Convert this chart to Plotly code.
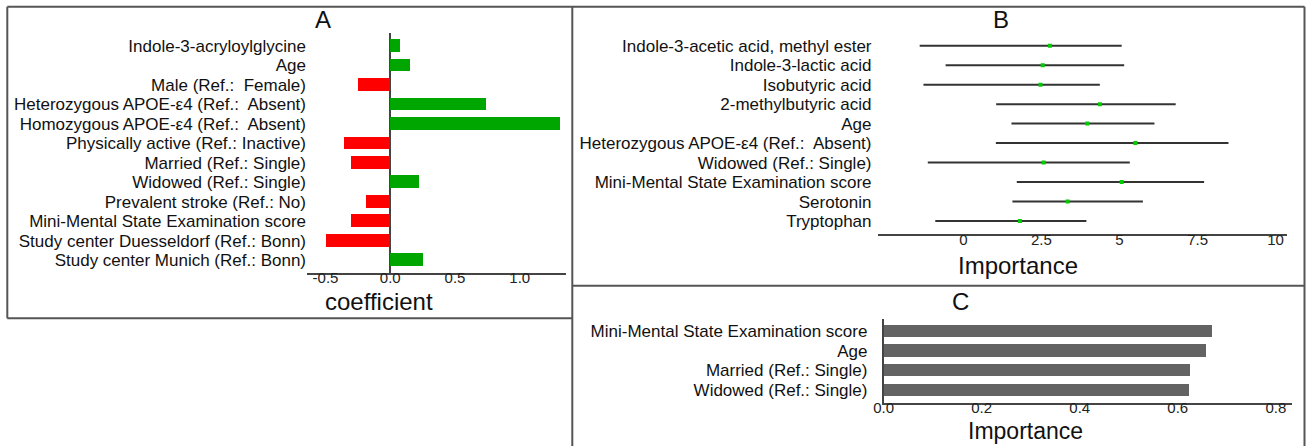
import plotly.graph_objects as go

# ---- Panel A: regression coefficients ----
a_labels = [
    "Indole-3-acryloylglycine",
    "Age",
    "Male (Ref.:  Female)",
    "Heterozygous APOE-ε4 (Ref.:  Absent)",
    "Homozygous APOE-ε4 (Ref.:  Absent)",
    "Physically active (Ref.: Inactive)",
    "Married (Ref.: Single)",
    "Widowed (Ref.: Single)",
    "Prevalent stroke (Ref.: No)",
    "Mini-Mental State Examination score",
    "Study center Duesseldorf (Ref.: Bonn)",
    "Study center Munich (Ref.: Bonn)",
]
a_coef = [0.075, 0.15, -0.25, 0.74, 1.31, -0.36, -0.30, 0.22, -0.19, -0.30, -0.50, 0.25]
a_ticks = [-0.5, 0.0, 0.5, 1.0]
a_ticktext = ["-0.5", "0.0", "0.5", "1.0"]

# ---- Panel B: permutation importance with intervals ----
b_labels = [
    "Indole-3-acetic acid, methyl ester",
    "Indole-3-lactic acid",
    "Isobutyric acid",
    "2-methylbutyric acid",
    "Age",
    "Heterozygous APOE-ε4 (Ref.:  Absent)",
    "Widowed (Ref.: Single)",
    "Mini-Mental State Examination score",
    "Serotonin",
    "Tryptophan",
]
b_mean = [2.77, 2.54, 2.47, 4.37, 3.97, 5.51, 2.57, 5.07, 3.34, 1.81]
b_low = [-1.40, -0.57, -1.28, 1.05, 1.54, 1.04, -1.14, 1.71, 1.57, -0.90]
b_high = [5.07, 5.15, 4.37, 6.80, 6.12, 8.49, 5.33, 7.71, 5.75, 3.94]
b_ticks = [0, 2.5, 5, 7.5, 10]
b_ticktext = ["0", "2.5", "5", "7.5", "10"]

# ---- Panel C: importance ----
c_labels = [
    "Mini-Mental State Examination score",
    "Age",
    "Married (Ref.: Single)",
    "Widowed (Ref.: Single)",
]
c_imp = [0.670, 0.657, 0.625, 0.623]
c_ticks = [0.0, 0.2, 0.4, 0.6, 0.8]
c_ticktext = ["0.0", "0.2", "0.4", "0.6", "0.8"]

W, H = 1306, 446
FONT = "Liberation Sans, Arial, sans-serif"
LABEL_SIZE = 17
TICK_SIZE = 15
TITLE_SIZE = 24
AXIS_COLOR = "#444444"
BOX_COLOR = "#555555"
GREEN = "#00a600"
RED = "#ff0000"


def fx(px):
    return px / W


def fy(py):
    return 1 - py / H


fig = go.Figure()

# Panel A bars
fig.add_trace(go.Bar(
    x=a_coef, y=a_labels, orientation="h", width=0.65,
    marker=dict(color=[GREEN if v > 0 else RED for v in a_coef], line=dict(width=0)),
    xaxis="x", yaxis="y", showlegend=False,
))

# Panel B points with intervals
fig.add_trace(go.Scatter(
    x=b_mean, y=b_labels, mode="markers",
    marker=dict(symbol="square", size=4, color="#00cc00", line=dict(width=0)),
    error_x=dict(type="data", symmetric=False,
                 array=[h - m for h, m in zip(b_high, b_mean)],
                 arrayminus=[m - l for m, l in zip(b_mean, b_low)],
                 color="#333333", thickness=2, width=0),
    xaxis="x2", yaxis="y2", showlegend=False,
))

# Panel C bars
fig.add_trace(go.Bar(
    x=c_imp, y=c_labels, orientation="h", width=0.63,
    marker=dict(color="#636363", line=dict(width=0)),
    xaxis="x3", yaxis="y3", showlegend=False,
))

cat_font = dict(family=FONT, size=LABEL_SIZE, color="#111111")
tick_font = dict(family=FONT, size=TICK_SIZE, color="#222222")

common_x = dict(showgrid=False, showline=True, linecolor=AXIS_COLOR, linewidth=1.5,
                ticks="", tickfont=tick_font, automargin=False, ticklabelstandoff=-9)
common_y = dict(type="category", tickfont=cat_font, showgrid=False, zeroline=False,
                ticks="", automargin=False)

fig.update_layout(
    width=W, height=H,
    margin=dict(l=0, r=0, t=0, b=0, autoexpand=False),
    paper_bgcolor="white", plot_bgcolor="white",
    font=dict(family=FONT, color="#111111"),
    bargap=0,
    xaxis=dict(
        common_x, domain=[fx(307), fx(566)], range=[-0.643, 1.357], anchor="y",
        tickmode="array", tickvals=a_ticks, ticktext=a_ticktext,
        zeroline=True, zerolinecolor=AXIS_COLOR, zerolinewidth=1.5,
    ),
    yaxis=dict(
        common_y, domain=[fy(272.7), fy(33.3)], range=[11.65, -0.637], anchor="x",
        tickmode="array", tickvals=a_labels, ticktext=a_labels,
        showline=False, ticklabelstandoff=0,
    ),
    xaxis2=dict(
        common_x, domain=[fx(877.5), fx(1287)], range=[-2.751, 10.365], anchor="y2",
        tickmode="array", tickvals=b_ticks, ticktext=b_ticktext, zeroline=False,
    ),
    yaxis2=dict(
        common_y, domain=[fy(234.3), fy(33.0)], range=[9.68, -0.65], anchor="x2",
        tickmode="array", tickvals=b_labels, ticktext=b_labels,
        showline=False, ticklabelstandoff=5,
    ),
    xaxis3=dict(
        common_x, domain=[fx(883.6), fx(1292)], range=[0, 0.833], anchor="y3",
        tickmode="array", tickvals=c_ticks, ticktext=c_ticktext, zeroline=False,
    ),
    yaxis3=dict(
        common_y, domain=[fy(402.7), fy(319)], range=[3.66, -0.61], anchor="x3",
        tickmode="array", tickvals=c_labels, ticktext=c_labels,
        showline=True, linecolor=AXIS_COLOR, linewidth=1.5, ticklabelstandoff=11,
    ),
)

# Panel letters and axis titles
texts = [
    ("A", 323, 19.3, TITLE_SIZE),
    ("coefficient", 379, 301.7, TITLE_SIZE),
    ("B", 1001, 19.3, TITLE_SIZE),
    ("Importance", 1018, 265, TITLE_SIZE),
    ("C", 960.6, 301.7, TITLE_SIZE),
    ("Importance", 1025, 430.5, 23),
]
for t, x, y, s in texts:
    fig.add_annotation(text=t, x=fx(x), y=fy(y), xref="paper", yref="paper",
                       xanchor="center", yanchor="middle", showarrow=False,
                       borderpad=0,
                       font=dict(family=FONT, size=s, color="#111111"))

# Panel frames
frame = dict(color=BOX_COLOR, width=2)
lines = [
    (7.3, 6.7, 1304.5, 6.7),     # top edge
    (7.3, 6.7, 7.3, 318.3),      # left edge of A
    (7.3, 318.3, 572.3, 318.3),  # bottom edge of A
    (572.3, 6.7, 572.3, 446),    # divider A | B,C
    (572.3, 285.7, 1304.5, 285.7),  # divider B / C
    (1304.5, 6.7, 1304.5, 446),  # right edge
]
for x0, y0, x1, y1 in lines:
    fig.add_shape(type="line", xref="paper", yref="paper",
                  x0=fx(x0), y0=fy(y0), x1=fx(x1), y1=fy(y1), line=frame)

fig.write_html("out.html")
